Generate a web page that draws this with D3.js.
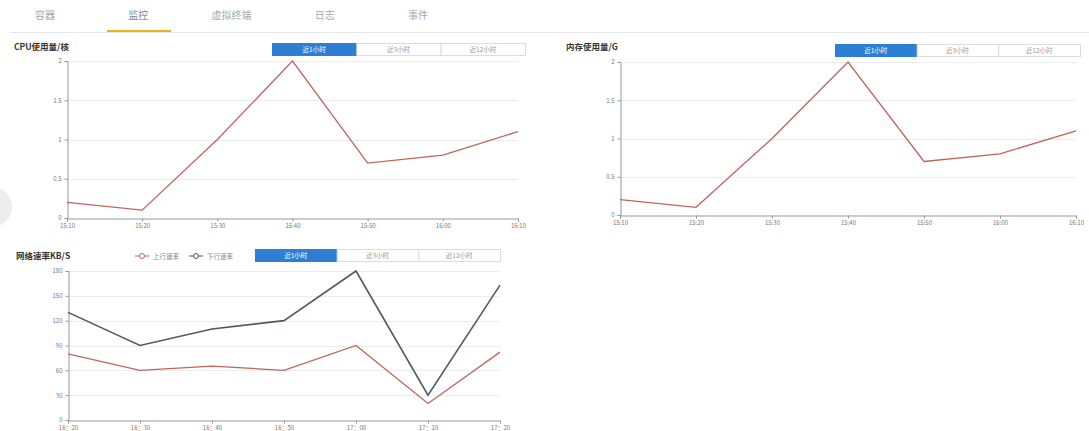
<!DOCTYPE html>
<html>
<head>
<meta charset="utf-8">
<script src="https://cdn.jsdelivr.net/npm/d3@7/dist/d3.min.js"></script>
<style>
body { margin: 0; background: #fff; font-family: "Noto Sans CJK SC", "Noto Sans", sans-serif; }
svg text { font-family: "Noto Sans CJK SC", "Noto Sans", sans-serif; }
</style>
</head>
<body>
<script>
var width = 1089;
var height = 431;

var tabs = ['容器', '监控', '虚拟终端', '日志', '事件'];
var ranges = ['近1小时', '近3小时', '近12小时'];

var cpuTimes = ['15:10', '15:20', '15:30', '15:40', '15:50', '16:00', '16:10'];
var cpuValues = [0.2, 0.1, 1.0, 2.0, 0.7, 0.8, 1.1];
var cpuTicks = [0, 0.5, 1, 1.5, 2];

var memTimes = ['15:10', '15:20', '15:30', '15:40', '15:50', '16:00', '16:10'];
var memValues = [0.2, 0.1, 1.0, 2.0, 0.7, 0.8, 1.1];
var memTicks = [0, 0.5, 1, 1.5, 2];

var netTimes = ['16：20', '16：30', '16：40', '16：50', '17：00', '17：10', '17：20'];
var netNames = ['上行速率', '下行速率'];
var netUp = [80, 60, 65, 60, 90, 20, 82];
var netDown = [130, 90, 110, 120, 180, 30, 163];
var netTicks = [0, 30, 60, 90, 120, 150, 180];

var red = '#c0645d';
var slate = '#4d5c63';

var svg = d3.select('body').append('svg').attr('width', width).attr('height', height);

// stray floating button at the left edge
svg.append('circle').attr('cx', -8).attr('cy', 207).attr('r', 20).attr('fill', '#ededed');

// tabs
var tabX = d3.scalePoint().domain(tabs).range([45, 418]);
svg.append('line').attr('x1', 10).attr('x2', width).attr('y1', 32.5).attr('y2', 32.5).attr('stroke', '#e6e6e6');
svg.selectAll('.tab').data(tabs).enter().append('text')
  .attr('class', 'tab')
  .attr('x', function (d) { return tabX(d); })
  .attr('y', 19)
  .attr('text-anchor', 'middle')
  .attr('font-size', 10)
  .attr('fill', function (d) { return d === '监控' ? '#8a8a8a' : '#a8a8a8'; })
  .text(function (d) { return d; });
svg.append('rect').attr('x', 107).attr('y', 30).attr('width', 64).attr('height', 2).attr('fill', '#e9b21f');

function buttons(x0, y0, w) {
  var bx = d3.scaleBand().domain(ranges).range([x0, x0 + w]);
  var g = svg.append('g');
  g.selectAll('rect').data(ranges).enter().append('rect')
    .attr('x', function (d) { return bx(d) + 0.5; })
    .attr('y', y0 + 0.5)
    .attr('width', bx.bandwidth())
    .attr('height', 12)
    .attr('fill', function (d, i) { return i === 0 ? '#2e7fd3' : '#fff'; })
    .attr('stroke', function (d, i) { return i === 0 ? '#2e7fd3' : '#dcdcdc'; });
  g.selectAll('text').data(ranges).enter().append('text')
    .attr('x', function (d) { return bx(d) + bx.bandwidth() / 2; })
    .attr('y', y0 + 9)
    .attr('text-anchor', 'middle')
    .attr('font-size', 6.5)
    .attr('fill', function (d, i) { return i === 0 ? '#fff' : '#999'; })
    .text(function (d) { return d; });
}

function chart(opt) {
  var x = d3.scalePoint().domain(opt.times).range([opt.left, opt.right]);
  var y = d3.scaleLinear().domain([0, d3.max(opt.ticks)]).range([opt.bottom, opt.top]);
  var g = svg.append('g');

  svg.append('text').attr('x', opt.titleX).attr('y', opt.titleY)
    .attr('font-size', 8.5).attr('font-weight', 'bold').attr('fill', '#333')
    .text(opt.title);

  // grid
  g.selectAll('.grid').data(opt.ticks.slice(1)).enter().append('line')
    .attr('x1', opt.left).attr('x2', opt.right)
    .attr('y1', function (d) { return Math.round(y(d)) + 0.5; })
    .attr('y2', function (d) { return Math.round(y(d)) + 0.5; })
    .attr('stroke', '#ececec');

  var ya = g.append('g').attr('transform', 'translate(' + (opt.left + 0.5) + ',0)')
    .call(d3.axisLeft(y).tickValues(opt.ticks).tickSize(3).tickPadding(3).tickFormat(function (d) { return String(d); }));
  var xa = g.append('g').attr('transform', 'translate(0,' + (opt.bottom + 0.5) + ')')
    .call(d3.axisBottom(x).tickSize(3).tickPadding(2));
  [ya, xa].forEach(function (a) {
    a.select('.domain').attr('stroke', '#999');
    a.selectAll('.tick line').attr('stroke', '#999');
    a.selectAll('text').attr('font-size', 6).attr('fill', '#777').attr('font-family', 'DejaVu Sans, sans-serif');
  });

  var line = d3.line()
    .x(function (d, i) { return x(opt.times[i]); })
    .y(function (d) { return y(d); });
  opt.series.forEach(function (s) {
    g.append('path').datum(s.values)
      .attr('d', line)
      .attr('fill', 'none')
      .attr('stroke', s.color)
      .attr('stroke-width', s.width);
  });
}

chart({
  title: 'CPU使用量/核', titleX: 14, titleY: 50,
  times: cpuTimes, ticks: cpuTicks,
  left: 67, right: 518, top: 61, bottom: 218,
  series: [{ values: cpuValues, color: red, width: 1.3 }]
});
buttons(272, 43, 253);

chart({
  title: '内存使用量/G', titleX: 566, titleY: 50,
  times: memTimes, ticks: memTicks,
  left: 620, right: 1076, top: 62, bottom: 215,
  series: [{ values: memValues, color: red, width: 1.3 }]
});
buttons(835, 44, 245);

chart({
  title: '网络速率KB/S', titleX: 16, titleY: 259,
  times: netTimes, ticks: netTicks,
  left: 68, right: 500, top: 271, bottom: 420,
  series: [
    { values: netUp, color: red, width: 1.3 },
    { values: netDown, color: slate, width: 1.6 }
  ]
});
buttons(255, 249, 245);

// legend
var lg = svg.append('g').selectAll('g').data(netNames).enter().append('g')
  .attr('transform', function (d, i) { return 'translate(' + (135 + i * 54) + ',256)'; });
lg.append('line').attr('x1', 0).attr('x2', 14).attr('y1', 0).attr('y2', 0)
  .attr('stroke', function (d, i) { return i === 0 ? red : slate; });
lg.append('circle').attr('cx', 7).attr('cy', 0).attr('r', 2.5).attr('fill', '#fff')
  .attr('stroke', function (d, i) { return i === 0 ? red : slate; });
lg.append('text').attr('x', 18).attr('y', 2.5).attr('font-size', 6.5).attr('fill', '#888')
  .text(function (d) { return d; });
</script>
</body>
</html>
